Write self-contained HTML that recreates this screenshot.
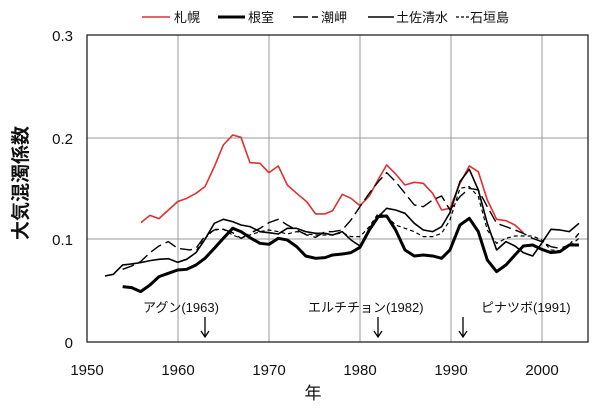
<!DOCTYPE html>
<html><head><meta charset="utf-8"><style>
body{margin:0;background:#fff;}
svg text{font-family:"Liberation Sans","Noto Sans CJK JP",sans-serif;fill:#111;}
</style></head><body>
<svg width="600" height="406" viewBox="0 0 600 406" xmlns="http://www.w3.org/2000/svg">
<rect width="600" height="406" fill="#fff"/>
<g stroke="#999" stroke-width="1">
<line x1="178" y1="35" x2="178" y2="342"/><line x1="269" y1="35" x2="269" y2="342"/>
<line x1="360" y1="35" x2="360" y2="342"/><line x1="451" y1="35" x2="451" y2="342"/>
<line x1="542" y1="35" x2="542" y2="342"/>
<line x1="87" y1="138" x2="588" y2="138"/><line x1="87" y1="239" x2="588" y2="239"/>
</g>
<rect x="87" y="35" width="501" height="307" fill="none" stroke="#222" stroke-width="1.3"/>
<g font-size="15" text-anchor="end">
<text x="73" y="41">0.3</text><text x="73" y="144">0.2</text><text x="73" y="245">0.1</text><text x="73" y="348">0</text>
</g>
<g font-size="15" text-anchor="middle">
<text x="87" y="375">1950</text><text x="178" y="375">1960</text><text x="269" y="375">1970</text>
<text x="360" y="375">1980</text><text x="451" y="375">1990</text><text x="542" y="375">2000</text>
</g>
<text x="313" y="399" font-size="17" text-anchor="middle">年</text>
<text transform="translate(27,183) rotate(-90)" font-size="19" font-weight="bold" text-anchor="middle">大気混濁係数</text>
<g font-size="13">
<text x="143" y="312">アグン(1963)</text>
<text x="308" y="312">エルチチョン(1982)</text>
<text x="481" y="312">ピナツボ(1991)</text>
</g>
<g stroke="#000" stroke-width="1.3" fill="none">
<path d="M205,317V336M201,331L205,337L209,331"/>
<path d="M378,317V336M374,331L378,337L382,331"/>
<path d="M463,317V336M459,331L463,337L467,331"/>
</g>
<g transform="translate(80,30) scale(0.3333)" fill="none" stroke-linejoin="round">
<polyline stroke="#e03030" stroke-width="1.6" vector-effect="non-scaling-stroke" points="183,578 210,556 237,566 293,515 320,505 348,490 375,470 403,410 430,345 458,315 483,322 510,398 540,400 567,428 595,408 622,465 650,490 680,515 707,552 735,552 758,542 787,493 813,505 840,527 868,498 895,448 920,405 947,432 975,465 1003,457 1030,460 1058,490 1085,540 1110,535 1140,460 1168,408 1195,425 1222,510 1250,568 1278,572 1305,585 1330,608"/>
<polyline stroke="#000" stroke-width="3" vector-effect="non-scaling-stroke" points="128,770 155,773 182,785 210,765 237,740 265,730 293,720 320,718 348,705 375,685 403,655 430,625 458,595 483,605 510,623 540,640 567,643 595,625 622,630 650,650 677,678 707,685 735,683 758,675 787,672 813,668 840,652 868,600 895,560 920,558 947,600 975,660 1003,678 1030,675 1058,678 1085,685 1110,660 1140,585 1168,565 1195,605 1222,690 1250,725 1278,705 1305,675 1330,648 1358,645 1385,658 1413,668 1440,665 1468,645 1497,645"/>
<polyline stroke="#000" stroke-width="1.4" stroke-dasharray="12,5" vector-effect="non-scaling-stroke" points="128,718 155,708 182,695 210,668 237,648 265,635 293,655 330,660 348,655 375,618 403,600 430,598 458,608 483,625 510,610 540,595 567,578 595,568 622,585 650,600 680,615 707,622 735,605 758,605 787,600 813,570 840,530 868,490 895,455 920,428 947,455 975,490 1003,525 1030,530 1058,510 1085,498 1110,540 1140,500 1168,475 1195,480 1222,530 1250,580 1278,590 1305,600 1330,610 1358,625 1385,635 1413,650 1440,655 1468,645 1497,610"/>
<polyline stroke="#000" stroke-width="1.6" vector-effect="non-scaling-stroke" points="75,738 100,733 128,705 155,702 182,698 210,692 237,688 265,686 293,697 320,688 348,668 375,628 403,580 430,568 458,575 483,585 510,590 540,605 567,608 595,612 622,595 650,595 677,605 707,610 735,610 758,615 787,605 813,630 840,648 868,600 895,560 920,535 947,540 975,550 1003,580 1030,600 1058,605 1085,590 1110,548 1140,455 1168,418 1195,480 1222,580 1250,660 1278,635 1305,648 1330,668 1358,678 1385,640 1413,598 1440,600 1468,605 1497,580"/>
<polyline stroke="#000" stroke-width="1.2" stroke-dasharray="4,3" vector-effect="non-scaling-stroke" points="350,660 375,625 403,598 430,598 458,615 483,625 510,615 540,605 567,600 595,605 622,612 650,605 680,612 707,615 735,615 758,615 787,608 813,620 840,620 868,590 895,550 920,560 947,585 975,595 1003,605 1030,620 1058,620 1085,610 1110,570 1140,475 1168,470 1195,500 1222,600 1250,640 1278,625 1305,618 1330,618 1358,618 1385,630 1413,660 1440,662 1468,650 1497,625"/>
</g>
<g font-size="13">
<line x1="142" y1="17" x2="170" y2="17" stroke="#e03030" stroke-width="1.6"/><text x="174" y="22">札幌</text>
<line x1="218" y1="17" x2="245" y2="17" stroke="#000" stroke-width="3"/><text x="248" y="22">根室</text>
<path d="M293,17H308M312,17H318" stroke="#000" stroke-width="1.4"/><text x="321" y="22">潮岬</text>
<line x1="368" y1="17" x2="394" y2="17" stroke="#000" stroke-width="1.6"/><text x="396" y="22">土佐清水</text>
<line x1="456" y1="17" x2="469" y2="17" stroke="#000" stroke-width="1.2" stroke-dasharray="3,2"/><text x="470" y="22">石垣島</text>
</g>
</svg>
</body></html>
